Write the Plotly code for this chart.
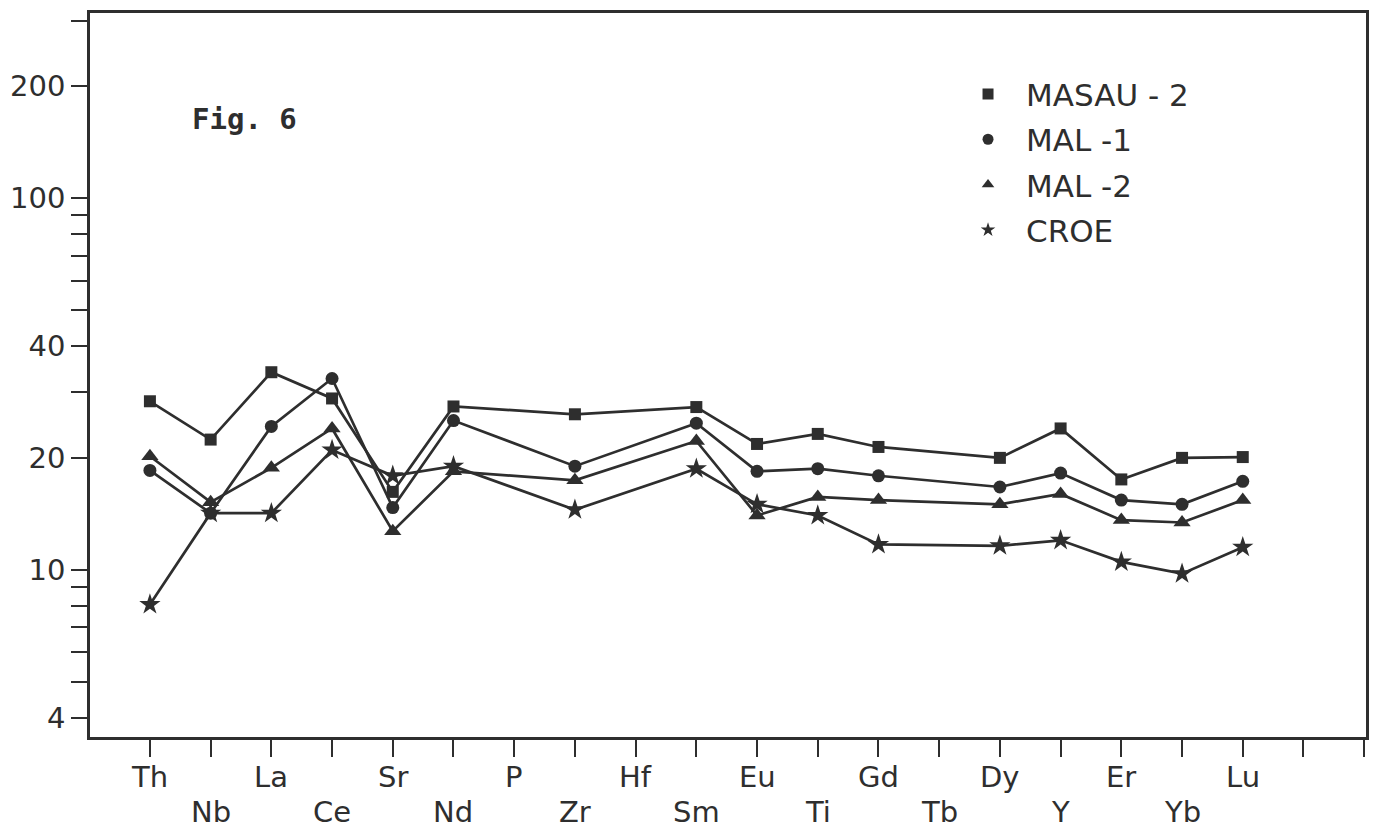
import plotly.graph_objects as go

elements = ["Th", "Nb", "La", "Ce", "Sr", "Nd", "P", "Zr", "Hf", "Sm",
            "Eu", "Ti", "Gd", "Tb", "Dy", "Y", "Er", "Yb", "Lu"]
extra_ticks = 2  # two unlabeled ticks after Lu

masau2 = [28.4, 22.4, 34.0, 28.9, 16.2, 27.5, None, 26.2, None, 27.4,
          21.8, 23.2, 21.4, None, 20.0, 24.0, 17.5, 20.0, 20.1]
mal1 = [18.5, 14.2, 24.3, 32.7, 14.7, 25.2, None, 19.0, None, 24.8,
        18.4, 18.7, 17.9, None, 16.7, 18.2, 15.4, 15.0, 17.3]
mal2 = [20.2, 15.2, 18.8, 24.0, 12.7, 18.4, None, 17.4, None, 22.2,
        14.0, 15.7, 15.4, None, 15.0, 16.0, 13.6, 13.4, 15.4]
croe = [8.06, 14.2, 14.2, 21.0, 17.9, 19.0, None, 14.5, None, 18.7,
        15.0, 14.0, 11.7, None, 11.6, 12.0, 10.5, 9.76, 11.5]

series_names = ["MASAU - 2", "MAL -1", "MAL -2", "CROE"]
series_values = [masau2, mal1, mal2, croe]
symbols = ["square", "circle", "triangle-up", "star"]
sizes = [12, 13, 15, 16]

ytick_vals = [4, 5, 6, 7, 8, 9, 10, 20, 30, 40, 50, 60, 70, 80, 90, 100, 200, 300]
ytick_labeled = [4, 10, 20, 40, 100, 200]

INK = "#2e2e2e"
FONT = "DejaVu Sans"

x_idx = list(range(len(elements)))
fig = go.Figure()
for name, vals, sym, sz in zip(series_names, series_values, symbols, sizes):
    fig.add_trace(go.Scatter(
        x=x_idx, y=vals, mode="lines+markers", connectgaps=True,
        line=dict(color=INK, width=2.7),
        marker=dict(symbol=sym, size=sz, color=INK),
        showlegend=False, name=name))
# legend-only entries (markers only, as in the original key)
for i, (name, sym) in enumerate(zip(series_names, symbols)):
    fig.add_trace(go.Scatter(
        x=[None], y=[None], mode="markers", name=name,
        marker=dict(symbol=sym, size=11, color=INK),
        legendgroup=f"g{i}", showlegend=True))

n_ticks = len(elements) + extra_ticks
fig.update_xaxes(
    range=[-0.987, 20.03], tickvals=list(range(n_ticks)), showticklabels=False,
    ticks="outside", ticklen=17, tickwidth=2, tickcolor=INK,
    showline=True, linecolor=INK, linewidth=2.5, mirror=True,
    showgrid=False, zeroline=False)
fig.update_yaxes(
    type="log", range=[0.550, 2.498], tickvals=ytick_vals,
    ticktext=[str(v) if v in ytick_labeled else "" for v in ytick_vals],
    ticks="outside", ticklen=16, tickwidth=2, tickcolor=INK,
    tickfont=dict(family=FONT, size=29, color=INK),
    showline=True, linecolor=INK, linewidth=2.5, mirror=True,
    showgrid=False, zeroline=False)

annotations = []
for i, el in enumerate(elements):
    annotations.append(dict(
        x=i, xref="x", y=-0.055 if i % 2 == 0 else -0.103, yref="paper",
        text=el, showarrow=False, xanchor="center", yanchor="middle",
        font=dict(family=FONT, size=29, color=INK)))
annotations.append(dict(
    x=0.121, xref="paper", y=0.853, yref="paper", text="<b>Fig. 6</b>",
    showarrow=False, xanchor="center", yanchor="middle",
    font=dict(family="DejaVu Sans Mono", size=29, color=INK)))

fig.update_layout(
    width=1387, height=832,
    margin=dict(l=88, r=21, t=10, b=95),
    paper_bgcolor="white", plot_bgcolor="white",
    annotations=annotations,
    legend=dict(x=0.674, y=0.925, xanchor="left", yanchor="top",
                font=dict(family=FONT, size=31, color=INK),
                bgcolor="rgba(0,0,0,0)", tracegroupgap=2,
                itemwidth=66),
)
fig.write_html("out.html")
